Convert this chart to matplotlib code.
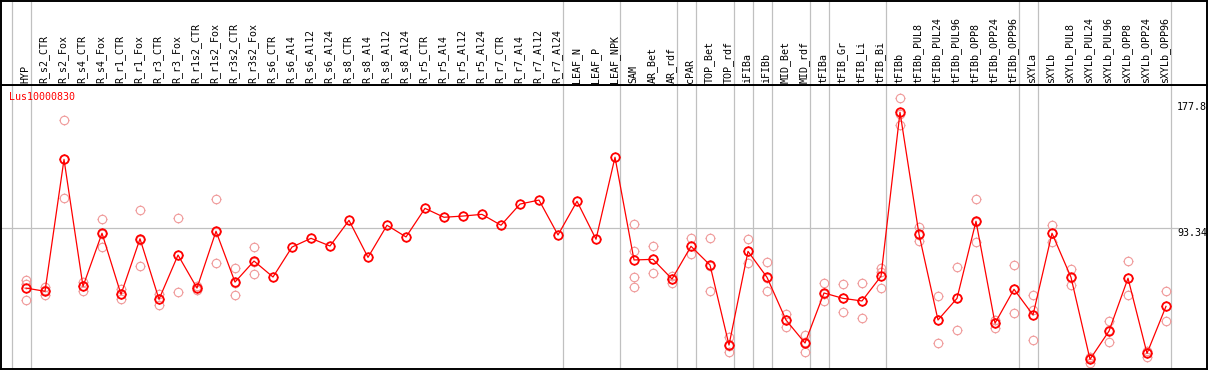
import numpy as np
import matplotlib
matplotlib.use('Agg')
import matplotlib.pyplot as plt
from matplotlib.path import Path

# sample names along the top (one per column)
samples = ['HYP', 'R_s2_CTR', 'R_s2_Fox', 'R_s4_CTR', 'R_s4_Fox', 'R_r1_CTR', 'R_r1_Fox',
           'R_r3_CTR', 'R_r3_Fox', 'R_r1s2_CTR', 'R_r1s2_Fox', 'R_r3s2_CTR', 'R_r3s2_Fox',
           'R_s6_CTR', 'R_s6_Al4', 'R_s6_Al12', 'R_s6_Al24', 'R_s8_CTR', 'R_s8_Al4', 'R_s8_Al12',
           'R_s8_Al24', 'R_r5_CTR', 'R_r5_Al4', 'R_r5_Al12', 'R_r5_Al24', 'R_r7_CTR', 'R_r7_Al4',
           'R_r7_Al12', 'R_r7_Al24', 'LEAF_N', 'LEAF_P', 'LEAF_NPK', 'SAM', 'AR_Bet', 'AR_rdf',
           'cPAR', 'TOP_Bet', 'TOP_rdf', 'iFIBa', 'iFIBb', 'MID_Bet', 'MID_rdf', 'tFIBa',
           'tFIB_Gr', 'tFIB_Li', 'tFIB_Bi', 'tFIBb', 'tFIBb_PUL8', 'tFIBb_PUL24', 'tFIBb_PUL96',
           'tFIBb_OPP8', 'tFIBb_OPP24', 'tFIBb_OPP96', 'sXYLa', 'sXYLb', 'sXYLb_PUL8',
           'sXYLb_PUL24', 'sXYLb_PUL96', 'sXYLb_OPP8', 'sXYLb_OPP24', 'sXYLb_OPP96']

# mean expression per sample
means = [54.2, 52.1, 138.0, 55.3, 89.9, 50.1, 86.3, 46.9, 75.7, 54.2, 91.2, 58.1, 71.8,
         61.4, 80.9, 86.6, 81.6, 98.3, 74.2, 95.1, 87.5, 106.1, 100.3, 101.1, 102.2, 95.1,
         108.9, 111.5, 88.8, 110.7, 86.0, 139.4, 72.5, 72.9, 60.1, 81.4, 69.2, 17.1, 78.1,
         61.2, 33.4, 18.4, 51.0, 47.5, 45.8, 61.9, 168.7, 89.2, 33.4, 47.5, 97.7, 31.3, 53.4,
         36.7, 89.9, 61.2, 7.8, 26.2, 60.6, 11.7, 42.3]

# individual replicates (empty where none are drawn)
replicates = [[59.5, 56.7, 46.4], [54.7, 52.9, 49.9], [163.4, 138.0, 112.7], [58.0, 55.5, 52.5],
              [99.2, 89.6, 80.7], [53.4, 50.3, 47.1], [105.0, 85.5, 68.6], [50.5, 47.1, 43.0],
              [99.8, 75.7, 51.6], [55.5, 54.2, 52.9], [112.2, 90.5, 70.5], [67.3, 57.5, 49.7],
              [80.9, 71.2, 63.4],
              [], [], [], [], [], [], [], [], [], [], [], [], [], [], [], [], [], [], [],
              [95.7, 78.1, 61.4, 54.9], [81.6, 73.1, 64.0], [62.3, 60.1, 57.7], [86.8, 81.4, 76.2],
              [86.8, 68.6, 52.3], [22.5, 16.5, 12.6], [86.0, 78.1, 70.5], [71.0, 60.8, 52.3],
              [37.3, 33.4, 29.0], [23.6, 19.1, 12.6], [57.3, 50.3, 45.6], [56.7, 47.7, 38.4],
              [57.3, 45.8, 34.5], [67.1, 64.9, 54.0], [177.8, 167.8, 160.4], [94.0, 89.0, 84.9],
              [48.8, 33.4, 18.2], [67.9, 47.7, 26.9], [112.0, 97.2, 84.0], [33.4, 31.5, 28.4],
              [69.0, 53.6, 37.8], [49.7, 39.9, 20.4], [95.3, 90.1, 84.4], [66.6, 60.8, 56.2],
              [9.5, 8.7, 5.6], [32.8, 26.9, 18.9], [71.6, 60.8, 49.5], [13.4, 11.9, 9.5],
              [52.1, 42.5, 32.8]]

# last sample index of each group (a separator is drawn right after it)
group_ends = [-1, 0, 28, 31, 34, 35, 37, 38, 39, 41, 42, 45, 52, 53, 60]

# values written on the right side
scale_labels = ['177.8', '93.34', '0']
scale_values = [177.8, 93.34, 0]
gene_name = 'Lus10000830'

##### marker: open circle plus four short ticks around it #####
ticks = Path([(0, 1), (0, 1.25), (0, -1), (0, -1.25), (1, 0), (1.25, 0), (-1, 0), (-1.25, 0)],
             [Path.MOVETO, Path.LINETO] * 4)


def draw_points(ax, xs, ys, color, lw, z):
    ax.plot(xs, ys, linestyle='none', marker='o', markersize=6.1, markerfacecolor='none',
            markeredgecolor=color, markeredgewidth=lw, zorder=z)
    ax.plot(xs, ys, linestyle='none', marker=ticks, markersize=7.7,
            markeredgecolor=color, markeredgewidth=0.8, zorder=z)


mono = 'DejaVu Sans Mono'
W, H = 1209, 370
fig = plt.figure(figsize=(W / 100, H / 100), dpi=100)

xlim = (-1.316, 62.158)
ax = fig.add_axes([1 / W, 1 / H, 1206 / W, 284 / H])       # plot area
hx = fig.add_axes([1 / W, 285 / H, 1206 / W, 84 / H])      # header with sample names

x = np.arange(len(samples))

# group separators
for g in group_ends:
    ax.axvline(g + 0.237, color='#c0c0c0', lw=0.9, zorder=1)
    hx.axvline(g + 0.237, color='#c0c0c0', lw=0.9, zorder=1)
ax.axhline(scale_values[1], xmin=0, xmax=(1178 - 1) / 1206, color='#c0c0c0', lw=0.9, zorder=1)

# replicates first, then the mean line on top
for i, reps in enumerate(replicates):
    if reps:
        draw_points(ax, [x[i]] * len(reps), reps, '#f09a9a', 0.8, 2)
ax.plot(x, means, color='red', lw=0.9, zorder=3)
draw_points(ax, x, means, 'red', 1.3, 4)

ax.set_xlim(*xlim)
ax.set_ylim(1.5, 186.43)
ax.set_xticks([])
ax.set_yticks([])

# scale values on the right
xr = (1177 - 26) / 19
ax.annotate(scale_labels[0], (xr, scale_values[0]), xytext=(0, -4), textcoords='offset pixels',
            va='top', ha='left', fontsize=7.2, family=mono, color='black')
ax.annotate(scale_labels[1], (xr, scale_values[1]), xytext=(0, 0), textcoords='offset pixels',
            va='top', ha='left', fontsize=7.2, family=mono, color='black')
ax.annotate(scale_labels[2], (xr, scale_values[2]), xytext=(0, 5), textcoords='offset pixels',
            va='bottom', ha='left', fontsize=7.2, family=mono, color='black')

ax.text(8 / 1206, 1 - 7 / 284, gene_name, transform=ax.transAxes, color='red',
        fontsize=7.2, family=mono, ha='left', va='top')

# header
hx.set_xlim(*xlim)
hx.set_ylim(0, 1)
hx.set_xticks([])
hx.set_yticks([])
for i, name in enumerate(samples):
    hx.text(x[i] - 0.05, 0.025, name, rotation=90, ha='center', va='bottom',
            fontsize=7.2, family=mono, color='black')

for a in (ax, hx):
    for s in a.spines.values():
        s.set_color('black')
        s.set_linewidth(1.4)

fig.savefig('out.png', dpi=100)
